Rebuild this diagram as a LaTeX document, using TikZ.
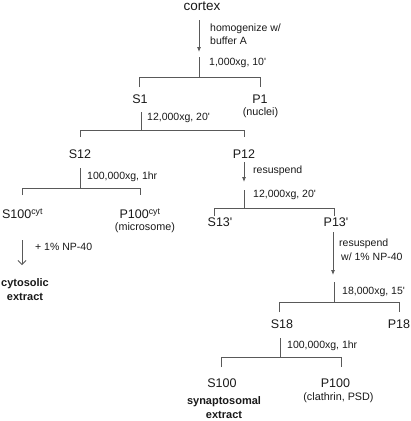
\documentclass[tikz,border=0pt]{standalone}
\usepackage{fontspec}
\setmainfont{Liberation Sans}
\usetikzlibrary{arrows.meta}

\begin{document}
\begin{tikzpicture}[x=1pt,y=-1pt,
  every node/.style={inner sep=0pt,text=black!90,font=\fontsize{12.5}{14}\selectfont},
  frac/.style={anchor=base},
  note/.style={anchor=west,align=left,font=\fontsize{10.5}{13.5}\selectfont},
  sub/.style={font=\fontsize{10.8}{12}\selectfont},
  prod/.style={align=center,font=\fontsize{11}{14}\selectfont\bfseries},
  ln/.style={draw=black!65,line width=0.8pt},
  push/.style={ln,-{Latex[length=5pt,width=4pt]}},
  add/.style={ln,-{Straight Barb[length=4pt,width=8pt]}}]
\useasboundingbox (0,0) rectangle (411,421);

% fractions
\node[frac,font=\fontsize{13.5}{16}\selectfont] (cortex) at (202,10.5) {cortex};
\node[frac] (S1) at (140,103.5) {S1};
\node[frac] (P1) at (260,103.5) {P1};
\node[sub] (P1n) at (260.5,113) {(nuclei)};
\node[frac] (S12) at (80,158.5) {S12};
\node[frac] (P12) at (244,158.5) {P12};
\node[frac] (S100c) at (22.5,218.5) {S100\textsuperscript{cyt}};
\node[frac] (P100c) at (140,218.5) {P100\textsuperscript{cyt}};
\node[sub] (P100cn) at (145,228) {(microsome)};
\node[prod] (cyto) at (25,290) {cytosolic\\extract};
\node[frac] (S13) at (220,226) {S13\textquotesingle};
\node[frac] (P13) at (336,226) {P13\textquotesingle};
\node[frac] (S18) at (282,328) {S18};
\node[frac] (P18) at (399,328) {P18};
\node[frac] (S100) at (222,387.5) {S100};
\node[frac] (P100) at (335.5,387.5) {P100};
\node[sub] (P100n) at (338.5,398) {(clathrin, PSD)};
\node[prod] (syn) at (224,408) {synaptosomal\\extract};

% steps
\node[note] (n1) at (210,34) {homogenize w/\\buffer A};
\node[note] (n2) at (209,63) {1,000xg, 10\textquotesingle};
\node[note] (n3) at (147,118) {12,000xg, 20\textquotesingle};
\node[note] (n4) at (87,177) {100,000xg, 1hr};
\node[note] (n5) at (35,247) {+ 1\% NP-40};
\node[note] (n6) at (253,171) {resuspend};
\node[note] (n7) at (253,195) {12,000xg, 20\textquotesingle};
\node[note] (n8) at (339,249.5) {resuspend\\\hspace{2pt}w/ 1\% NP-40};
\node[note] (n9) at (342,292) {18,000xg, 15\textquotesingle};
\node[note] (n10) at (287,346) {100,000xg, 1hr};

% cortex -> S1 / P1
\coordinate (a1) at (199,20);
\coordinate (a1e) at (199,52);
\coordinate (k1) at (199,57);
\coordinate (b1l) at (139,77);
\coordinate (b1r) at (260,77);
\draw[push] (a1) -- (a1e);
\draw[ln] (k1) -- (k1 |- b1l);
\draw[ln] (b1l) ++(0,10) -- (b1l) -- (b1r) -- ++(0,10);

% S1 -> S12 / P12
\coordinate (k2) at (141.5,112);
\coordinate (b2l) at (80,130);
\coordinate (b2r) at (244,130);
\draw[ln] (k2) -- (k2 |- b2l);
\draw[ln] (b2l) ++(0,7) -- (b2l) -- (b2r) -- ++(0,7);

% S12 -> S100cyt / P100cyt
\coordinate (k3) at (80,168);
\coordinate (b3l) at (22,188);
\coordinate (b3r) at (140,188);
\draw[ln] (k3) -- (k3 |- b3l);
\draw[ln] (b3l) ++(0,7) -- (b3l) -- (b3r) -- ++(0,7);
\coordinate (a3) at (22,240);
\coordinate (a3e) at (22,265);
\draw[add] (a3) -- (a3e);

% P12 -> S13' / P13'
\coordinate (a4) at (244,162);
\coordinate (a4e) at (244,182);
\coordinate (k4) at (244,190);
\coordinate (b4l) at (214,208);
\coordinate (b4r) at (334,208);
\draw[push] (a4) -- (a4e);
\draw[ln] (k4) -- (k4 |- b4l);
\draw[ln] (b4l) ++(0,8) -- (b4l) -- (b4r) -- ++(0,8);

% P13' -> S18 / P18
\coordinate (a5) at (333,232);
\coordinate (a5e) at (333,275);
\coordinate (k5) at (334,282);
\coordinate (b5l) at (279,302);
\coordinate (b5r) at (399,302);
\draw[push] (a5) -- (a5e);
\draw[ln] (k5) -- (k5 |- b5l);
\draw[ln] (b5l) ++(0,10) -- (b5l) -- (b5r) -- ++(0,10);

% S18 -> S100 / P100
\coordinate (k6) at (280,338);
\coordinate (b6l) at (221,357);
\coordinate (b6r) at (341,357);
\draw[ln] (k6) -- (k6 |- b6l);
\draw[ln] (b6l) ++(0,10) -- (b6l) -- (b6r) -- ++(0,10);
\end{tikzpicture}
\end{document}
